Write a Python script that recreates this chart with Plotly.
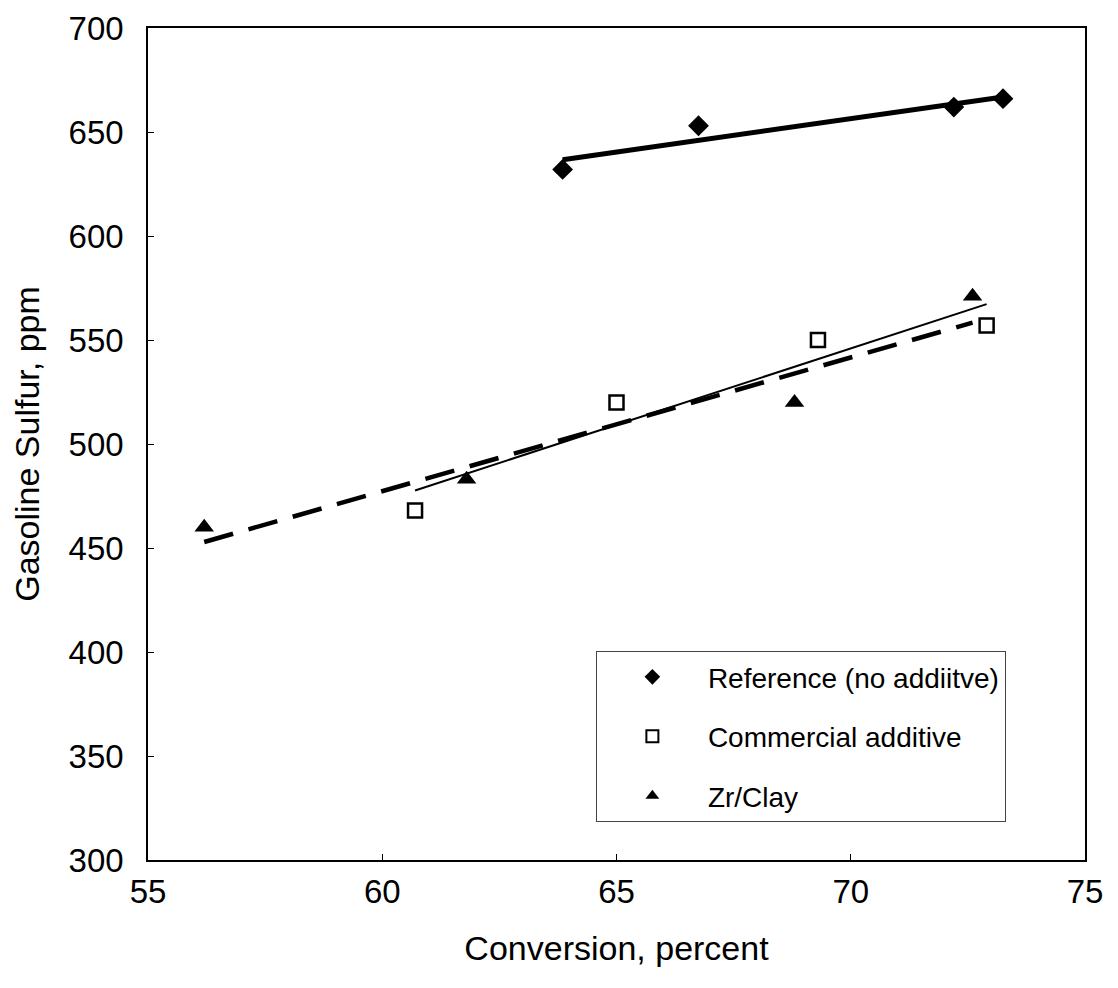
import numpy as np
import plotly.graph_objects as go

ref_x = [63.85, 66.75, 72.2, 73.25]
ref_y = [632, 653, 662, 666]
com_x = [60.7, 65.0, 69.3, 72.9]
com_y = [468, 520, 550, 557]
zr_x = [56.2, 61.8, 68.8, 72.6]
zr_y = [460, 483, 520, 571]

x_ticks = [55, 60, 65, 70, 75]
y_ticks = [300, 350, 400, 450, 500, 550, 600, 650, 700]

FONT = "Liberation Sans, Arial, sans-serif"


def fit(xs, ys):
    m, b = np.polyfit(xs, ys, 1)
    x0, x1 = min(xs), max(xs)
    return [x0, x1], [m * x0 + b, m * x1 + b]


fig = go.Figure()

fx, fy = fit(ref_x, ref_y)
fig.add_trace(go.Scatter(x=fx, y=fy, mode="lines", line=dict(color="black", width=5), showlegend=False, hoverinfo="skip"))
fx, fy = fit(com_x, com_y)
fig.add_trace(go.Scatter(x=fx, y=fy, mode="lines", line=dict(color="black", width=2), showlegend=False, hoverinfo="skip"))
fx, fy = fit(zr_x, zr_y)
fig.add_trace(go.Scatter(x=fx, y=fy, mode="lines", line=dict(color="black", width=4.5, dash="30px,16px"), showlegend=False, hoverinfo="skip"))

fig.add_trace(go.Scatter(x=ref_x, y=ref_y, mode="markers", name="Reference (no addiitve)", legendgroup="a",
                         marker=dict(symbol="diamond", size=16, color="black")))
fig.add_trace(go.Scatter(x=com_x, y=com_y, mode="markers", name="Commercial additive", legendgroup="b",
                         marker=dict(symbol="square-open", size=14, color="black", line=dict(width=2.5, color="black"))))
fig.add_trace(go.Scatter(x=zr_x, y=zr_y, mode="markers", name="Zr/Clay", legendgroup="c",
                         marker=dict(symbol="triangle-up", size=17, color="black")))

axis_common = dict(showline=True, linecolor="black", linewidth=1.5, mirror=True, ticks="inside",
                   ticklen=6, tickcolor="black", showgrid=False, zeroline=False, automargin=False,
                   tickfont=dict(family=FONT, size=33, color="black"))

fig.update_layout(
    width=1118, height=988,
    margin=dict(l=140, r=41, t=20, b=136),
    paper_bgcolor="white", plot_bgcolor="white",
    font=dict(family=FONT, color="black"),
    xaxis=dict(range=[55, 75], tickvals=x_ticks, ticklabelstandoff=2,
               title=dict(text="Conversion, percent", font=dict(family=FONT, size=34), standoff=27), **axis_common),
    yaxis=dict(range=[300, 700], tickvals=y_ticks, ticklabelstandoff=16,
               title=dict(text="Gasoline Sulfur, ppm", font=dict(family=FONT, size=34), standoff=20), **axis_common),
    legend=dict(x=0.478, y=0.251, xanchor="left", yanchor="top",
                bordercolor="#444", borderwidth=1, bgcolor="white",
                font=dict(family=FONT, size=28, color="black"),
                traceorder="grouped", tracegroupgap=20, itemsizing="constant",
                itemwidth=101),
    showlegend=True,
)

fig.write_html("out.html")
